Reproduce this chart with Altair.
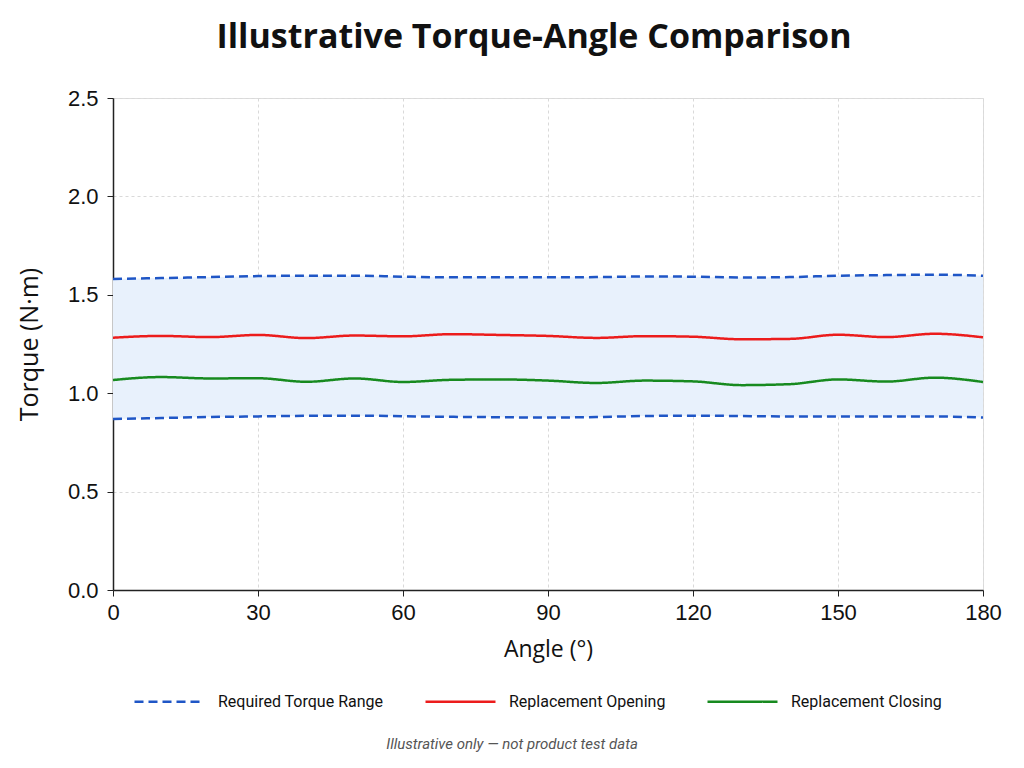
import altair as alt
import pandas as pd

angles = [0, 10, 20, 30, 40, 50, 60, 70, 80, 90, 100, 110, 120, 130, 140, 150, 160, 170, 180]
opening = [1.282, 1.291, 1.285, 1.296, 1.280, 1.293, 1.289, 1.300, 1.296, 1.291,
           1.281, 1.290, 1.287, 1.274, 1.276, 1.297, 1.285, 1.302, 1.284]
closing = [1.067, 1.082, 1.075, 1.076, 1.058, 1.075, 1.057, 1.068, 1.070, 1.064,
           1.052, 1.064, 1.060, 1.041, 1.046, 1.070, 1.059, 1.079, 1.057]
upper = [1.580, 1.585, 1.590, 1.595, 1.597, 1.597, 1.592, 1.589, 1.589, 1.589,
         1.590, 1.593, 1.592, 1.588, 1.590, 1.597, 1.600, 1.602, 1.597]
lower = [0.869, 0.874, 0.879, 0.882, 0.885, 0.886, 0.883, 0.880, 0.878, 0.876,
         0.879, 0.884, 0.886, 0.884, 0.882, 0.882, 0.882, 0.882, 0.876]

series_names = ["Required Torque Range", "Replacement Opening", "Replacement Closing"]
series_colors = ["#1f56c6", "#ec1c1c", "#178a1f"]
series_dashes = [[9, 5], [1, 0], [1, 0]]
x_ticks = [0, 30, 60, 90, 120, 150, 180]
y_ticks = [0.0, 0.5, 1.0, 1.5, 2.0, 2.5]
title_text = "Illustrative Torque-Angle Comparison"
footnote = "Illustrative only \u2014 not product test data"

wide = pd.DataFrame({"angle": angles, "lower": lower, "upper": upper})
rows = []
for a, v in zip(angles, upper):
    rows.append({"angle": a, "value": v, "series": series_names[0], "bound": "upper"})
for a, v in zip(angles, lower):
    rows.append({"angle": a, "value": v, "series": series_names[0], "bound": "lower"})
for a, v in zip(angles, opening):
    rows.append({"angle": a, "value": v, "series": series_names[1], "bound": "open"})
for a, v in zip(angles, closing):
    rows.append({"angle": a, "value": v, "series": series_names[2], "bound": "close"})
long = pd.DataFrame(rows)

W, H = 870, 492
axis_font = "Liberation Sans"
title_font = "Open Sans"
small_font = "Roboto"

x_enc = alt.X(
    "angle:Q",
    scale=alt.Scale(domain=[0, 180], nice=False),
    axis=alt.Axis(
        values=x_ticks, title="Angle (\u00b0)", format="d", labelFlush=False,
        labelFont=axis_font, labelFontSize=22, labelColor="#111", labelPadding=6,
        titleFont=title_font, titleFontSize=23, titleFontWeight="normal", titleColor="#111",
        titlePadding=15, domainColor="#222", domainWidth=1.5, tickColor="#222", tickSize=6,
        grid=True, gridColor="#d9d9d9", gridDash=[3, 3], gridWidth=1,
    ),
)
y_scale = alt.Scale(domain=[0, 2.5], nice=False)
y_axis = alt.Axis(
    values=y_ticks, title="Torque (N\u00b7m)", format=".1f", labelFlush=False,
    labelFont=axis_font, labelFontSize=22, labelColor="#111", labelPadding=9,
    titleFont=title_font, titleFontSize=25, titleFontWeight="normal", titleColor="#111",
    titlePadding=25, domainColor="#222", domainWidth=1.5, tickColor="#222", tickSize=6,
    grid=True, gridColor="#d9d9d9", gridDash=[3, 3], gridWidth=1,
)

band = alt.Chart(wide).mark_area(color="#e8f1fc", opacity=1, interpolate="monotone").encode(
    x=x_enc,
    y=alt.Y("lower:Q", scale=y_scale, axis=y_axis),
    y2="upper:Q",
)

legend = alt.Legend(
    title=None, orient="none", legendX=20, legendY=567, direction="horizontal", columns=3,
    symbolType="stroke", symbolSize=4900, symbolStrokeWidth=2.5,
    labelFont=small_font, labelFontSize=16, labelColor="#111",
    labelOffset=12, columnPadding=36, labelLimit=300,
)

lines = alt.Chart(long).mark_line(strokeWidth=2.5, interpolate="monotone").encode(
    x="angle:Q",
    y=alt.Y("value:Q", scale=y_scale),
    color=alt.Color("series:N", scale=alt.Scale(domain=series_names, range=series_colors), legend=legend),
    strokeDash=alt.StrokeDash("series:N", scale=alt.Scale(domain=series_names, range=series_dashes), legend=legend),
    detail="bound:N",
)

foot = alt.Chart(pd.DataFrame({"t": [footnote]})).mark_text(
    font=small_font, fontSize=15, fontStyle="italic", color="#555", align="center", baseline="middle"
).encode(text="t:N", x=alt.value(399), y=alt.value(646))

chart = alt.layer(band, lines, foot).properties(
    width=W, height=H,
    title=alt.TitleParams(title_text, font=title_font, fontSize=34, fontWeight="bold", color="#111",
                          anchor="middle", offset=32, dx=-14),
    autosize=alt.AutoSizeParams(type="none"),
    padding={"left": 113, "top": 98, "right": 41, "bottom": 178},
).configure_view(stroke=None).configure(background="white")

chart.save("out.html", embed_options={"renderer": "svg", "actions": False})
